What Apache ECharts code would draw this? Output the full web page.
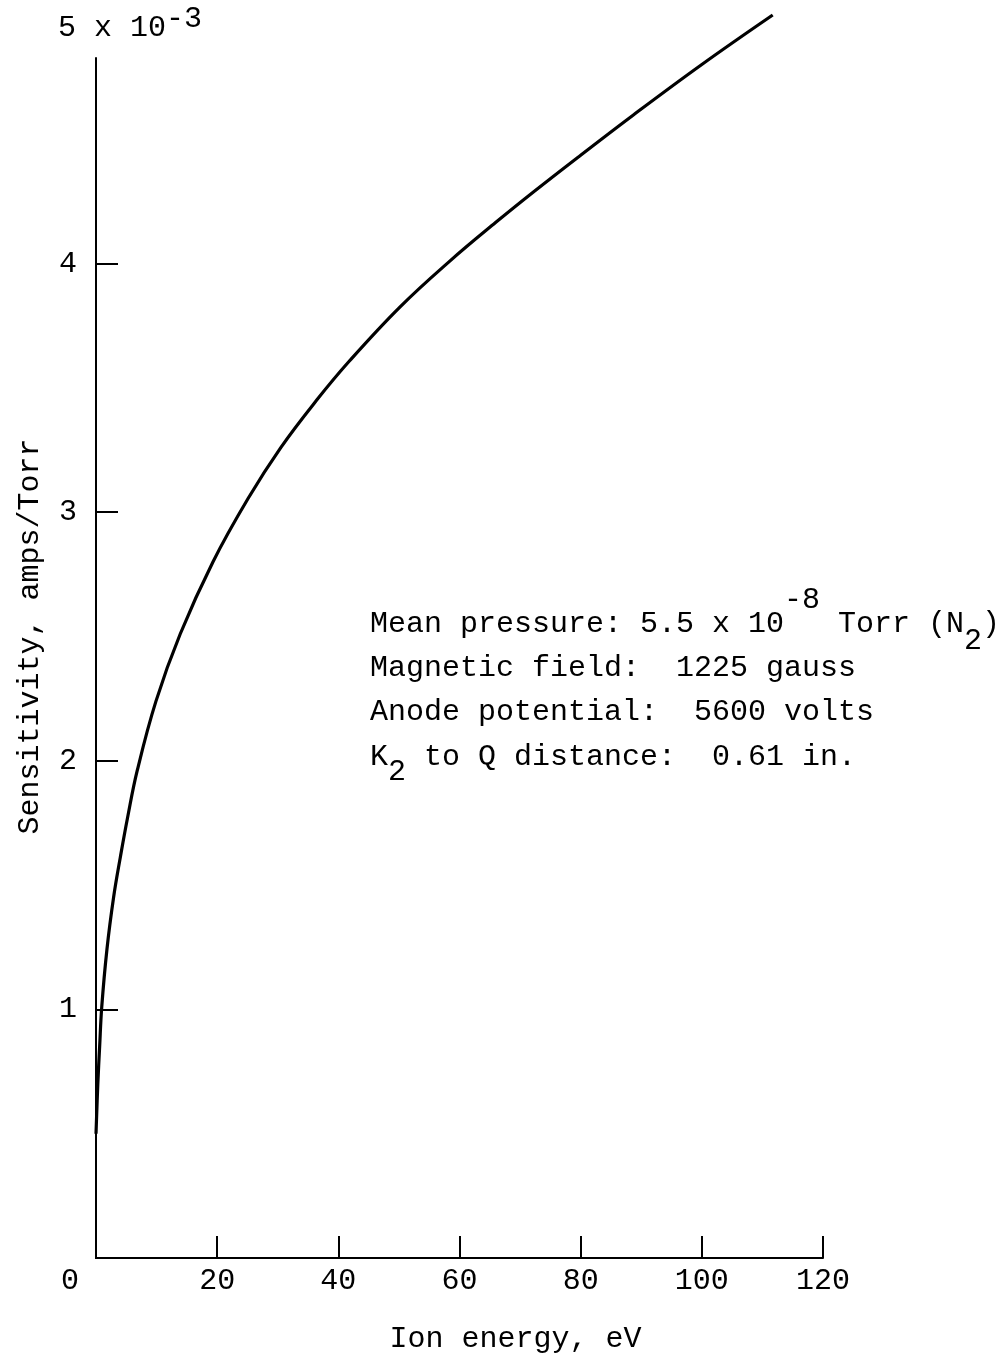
<!DOCTYPE html>
<html>
<head>
<meta charset="utf-8">
<script src="https://cdn.jsdelivr.net/npm/echarts@6/dist/echarts.min.js"></script>
<style>
html,body{margin:0;padding:0;background:#fff;}
#c{width:1005px;height:1355px;}
</style>
</head>
<body>
<div id="c"></div>
<script>
// ---- data ----
const energy      = [0, 0.3, 0.6, 0.95, 1.8, 2.9, 4.0, 5.2, 6.8, 9.9, 13.9, 19.3, 25.1, 30.5, 36.4, 41.9, 50.2, 58.4, 66.0, 72.2, 80.0, 88.7, 100.0, 111.7];
const sensitivity = [0.50, 0.70, 0.85, 1.01, 1.24, 1.45, 1.61, 1.77, 1.96, 2.24, 2.51, 2.80, 3.055, 3.26, 3.45, 3.61, 3.826, 4.01, 4.166, 4.288, 4.436, 4.598, 4.801, 5.00];
const xTicks = [20, 40, 60, 80, 100, 120];
const yTicks = [1, 2, 3, 4];
const xTitle = 'Ion energy, eV';
const yTitle = 'Sensitivity, amps/Torr';
const yAxisLineTop = 4.83;   // the drawn y axis line stops short of the top value
const notes = [
  'Mean pressure: 5.5 x 10   Torr (N )',
  'Magnetic field:  1225 gauss',
  'Anode potential:  5600 volts',
  'K  to Q distance:  0.61 in.'
];

const FONT = '"Liberation Mono", "Courier New", monospace';
const FS = 30;
const CW = 18; // monospace cell width at FS

const chart = echarts.init(document.getElementById('c'), null, {renderer: 'canvas'});

const txtStyle = {fontFamily: FONT, fontSize: FS, color: '#000'};

chart.setOption({
  backgroundColor: '#fff',
  animation: false,
  grid: {left: 96, right: 182, top: 15, bottom: 97, containLabel: false, outerBoundsMode: 'none'},
  xAxis: {
    type: 'value', min: 0, max: 120, interval: 20,
    splitLine: {show: false},
    axisLine: {show: true, lineStyle: {color: '#000', width: 2}},
    axisTick: {show: true, inside: true, length: 22, customValues: xTicks, lineStyle: {color: '#000', width: 2}},
    axisLabel: {customValues: xTicks, margin: 8, ...txtStyle},
    name: xTitle, nameLocation: 'middle', nameGap: 66,
    nameTextStyle: {...txtStyle, padding: [0, 0, 0, 112]}
  },
  yAxis: {
    type: 'value', min: 0, max: 5, interval: 1,
    splitLine: {show: false},
    axisLine: {show: false},
    axisTick: {show: true, inside: true, length: 22, customValues: yTicks, lineStyle: {color: '#000', width: 2}},
    axisLabel: {customValues: yTicks, margin: 19, ...txtStyle},
    name: yTitle, nameLocation: 'middle', nameGap: 51,
    nameTextStyle: {...txtStyle}
  },
  series: [{
    type: 'line',
    data: energy.map((e, i) => [e, sensitivity[i]]),
    smooth: 0.4,
    showSymbol: false,
    clip: false,
    lineStyle: {color: '#000', width: 3.2}
  }]
});

const p0 = chart.convertToPixel({gridIndex: 0}, [0, 0]);
const p1 = chart.convertToPixel({gridIndex: 0}, [0, yAxisLineTop]);

function txt(text, x, y, align) {
  return {
    type: 'text', x: x, y: y, silent: true,
    style: {text: text, font: FS + 'px ' + FONT, fill: '#000',
            textAlign: align || 'left', textVerticalAlign: 'middle', verticalAlign: 'middle'}
  };
}

const NX = 370;
const lineY = [624, 668, 712, 757];

chart.setOption({
  graphic: [
    {type: 'line', silent: true, shape: {x1: p0[0], y1: p0[1] + 1, x2: p1[0], y2: p1[1]},
     style: {stroke: '#000', lineWidth: 2}},
    txt('0', 70, 1281, 'center'),
    txt('5 x 10', 58, 28),
    txt('-3', 58 + 6 * CW, 19),
    txt(notes[0], NX, lineY[0]),
    txt('-8', NX + 23 * CW, lineY[0] - 24),
    txt('2', NX + 33 * CW, lineY[0] + 17),
    txt(notes[1], NX, lineY[1]),
    txt(notes[2], NX, lineY[2]),
    txt(notes[3], NX, lineY[3]),
    txt('2', NX + 1 * CW, lineY[3] + 15)
  ]
});
</script>
</body>
</html>
